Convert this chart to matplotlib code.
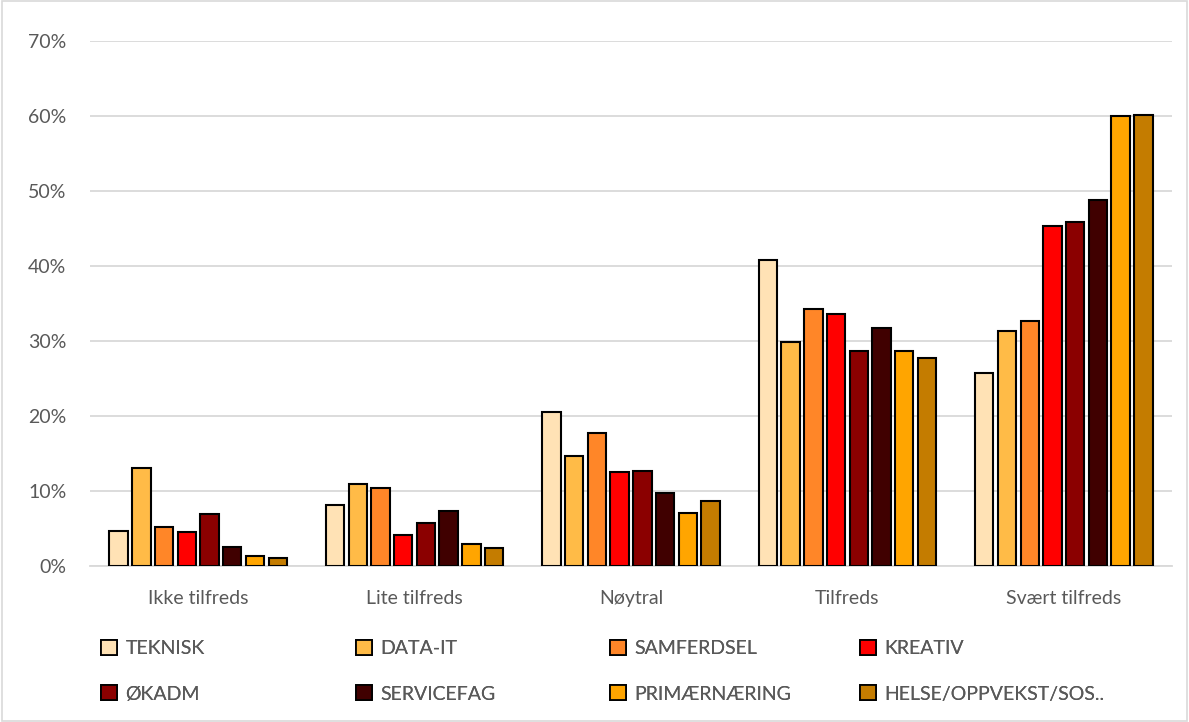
import matplotlib
matplotlib.use("Agg")
from matplotlib import pyplot as plt
from matplotlib.patches import Patch, Rectangle
import numpy as np

plt.rcParams['font.family'] = ['Lato', 'DejaVu Sans']

CATEGORIES = ["Ikke tilfreds", "Lite tilfreds", "Nøytral", "Tilfreds", "Svært tilfreds"]
SERIES = ["TEKNISK", "DATA-IT", "SAMFERDSEL", "KREATIV",
          "ØKADM", "SERVICEFAG", "PRIMÆRNÆRING", "HELSE/OPPVEKST/SOS.."]
COLORS = ["#FFE2B5", "#FFBB47", "#FF8628", "#FF0000",
          "#8B0000", "#400000", "#FFA500", "#C47C00"]

# percent per series, in category order
TEKNISK = [4.7, 8.1, 20.6, 40.8, 25.8]
DATA_IT = [13.1, 11.0, 14.7, 29.9, 31.4]
SAMFERDSEL = [5.2, 10.4, 17.7, 34.2, 32.7]
KREATIV = [4.5, 4.1, 12.5, 33.6, 45.4]
OKADM = [7.0, 5.7, 12.7, 28.7, 45.9]
SERVICEFAG = [2.5, 7.4, 9.8, 31.7, 48.8]
PRIMAERNAERING = [1.4, 2.9, 7.1, 28.6, 60.0]
HELSE = [1.1, 2.4, 8.7, 27.7, 60.1]

VALUES = [TEKNISK, DATA_IT, SAMFERDSEL, KREATIV, OKADM, SERVICEFAG, PRIMAERNAERING, HELSE]

TEXT = "#595959"
GRID = "#D9D9D9"

fig = plt.figure(figsize=(11.89, 7.22), dpi=100)
ax = fig.add_axes([90 / 1189, 1 - 566 / 722, (1172 - 90) / 1189, (566 - 41) / 722])

x = np.arange(len(CATEGORIES))
slot = 0.105
width = 0.085
for i, (name, vals, col) in enumerate(zip(SERIES, VALUES, COLORS)):
    ax.bar(x + (i - 3.5) * slot, np.array(vals) / 100, width, color=col,
           edgecolor="black", linewidth=1.5, label=name, zorder=3)

ax.set_xlim(-0.5, len(CATEGORIES) - 0.5)
ax.set_ylim(0, 0.70)
ax.set_yticks(np.arange(0, 0.71, 0.1))
ax.set_yticklabels([f"{int(round(t * 100))}%" for t in np.arange(0, 0.71, 0.1)])
ax.set_xticks(x)
ax.set_xticklabels(CATEGORIES)
ax.grid(axis="y", color=GRID, linewidth=1.3, zorder=0)
for s in ["top", "right", "left"]:
    ax.spines[s].set_visible(False)
ax.spines["bottom"].set_color(GRID)
ax.spines["bottom"].set_linewidth(1.3)
ax.tick_params(axis="both", length=0, colors=TEXT, labelsize=14)
ax.tick_params(axis="x", pad=17)
ax.tick_params(axis="y", pad=17)

# legend, one small legend per column
handles = [Patch(facecolor=c, edgecolor="black", linewidth=1.3) for c in COLORS]
col_x = [101, 356, 610, 860]
for c in range(4):
    leg = fig.legend([handles[c], handles[c + 4]], [SERIES[c], SERIES[c + 4]],
                     loc="upper left", bbox_to_anchor=(col_x[c] / 1189, 1 - 640 / 722),
                     frameon=False, fontsize=14, handlelength=0.8, handleheight=0.8,
                     handletextpad=0.45, labelspacing=1.45, borderpad=0, borderaxespad=0)
    for t in leg.get_texts():
        t.set_color(TEXT)
    fig.add_artist(leg)

fig.patches.append(Rectangle((0.0015, 0.002), 0.997, 0.996, transform=fig.transFigure,
                             fill=False, edgecolor=GRID, linewidth=1.2))

fig.savefig("out.png", dpi=100, facecolor="white")
